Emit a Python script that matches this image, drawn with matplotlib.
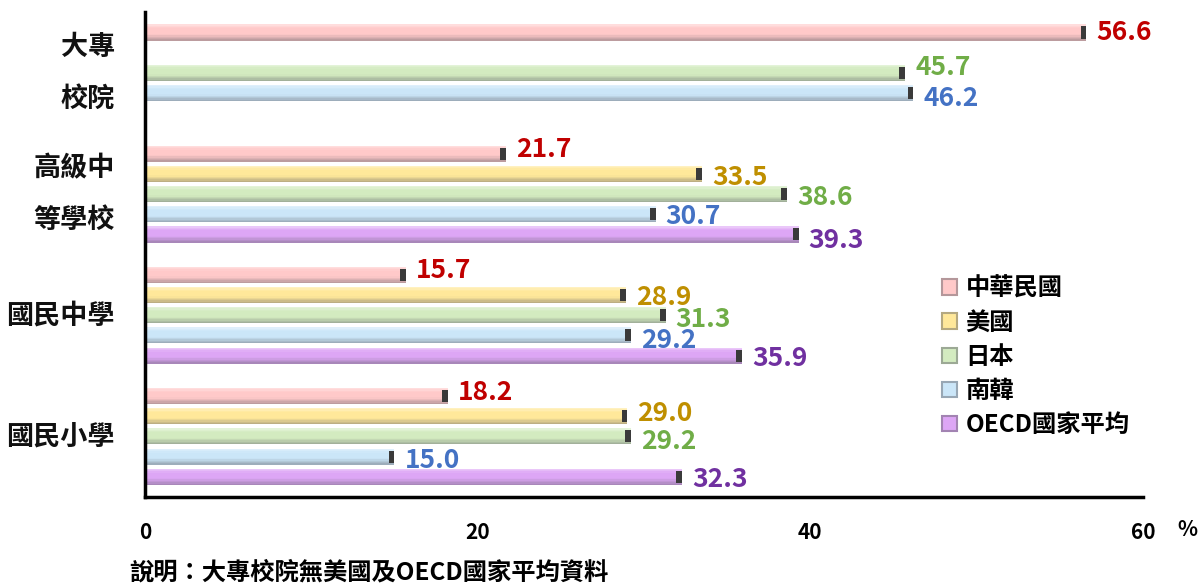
import matplotlib
matplotlib.use('Agg')
import matplotlib.pyplot as plt
import matplotlib.colors as mcolors
import numpy as np
from matplotlib.patches import Patch

plt.rcParams['font.family'] = ['Noto Sans CJK TC', 'DejaVu Sans']

# ---- data ----
categories = ['大專\n校院', '高級中\n等學校', '國民中學', '國民小學']
series_names = ['中華民國', '美國', '日本', '南韓', 'OECD國家平均']
taiwan = [56.6, 21.7, 15.7, 18.2]
usa = [None, 33.5, 28.9, 29.0]
japan = [45.7, 38.6, 31.3, 29.2]
korea = [46.2, 30.7, 29.2, 15.0]
oecd = [None, 39.3, 35.9, 32.3]
x_ticks = [0, 20, 40, 60]
footnote = '說明：大專校院無美國及OECD國家平均資料'

series_values = [taiwan, usa, japan, korea, oecd]
bar_colors = ['#FFC9C9', '#FFE89A', '#D3EBC0', '#CBE6F8', '#DDA6F5']
label_colors = ['#C00000', '#BF8F00', '#70AD47', '#4472C4', '#7030A0']
# vertical nudge of the value labels (pixels, + = down): [series][group]
label_dy = [[0, -4, -4, -4],
            [0, 4, 2, -3],
            [-5, 3, 4, 5],
            [5, 2, 5, 4],
            [0, 6, 3, 3]]

fig = plt.figure(figsize=(12, 5.84), dpi=100)
ax = fig.add_axes([0.1208, 0.149, 0.8317, 0.830])

bar_h = 0.8
n_strips = 12
slots_per_group = 6


def shade(color, t):
    base = np.array(mcolors.to_rgb(color))
    white = np.ones(3)
    dark = np.array([0.35, 0.35, 0.38])
    if t < 0.25:
        f = (0.25 - t) / 0.25
        return base * (1 - 0.45 * f) + white * 0.45 * f
    elif t < 0.6:
        return base
    else:
        f = (t - 0.6) / 0.4
        return base * (1 - 0.45 * f) + dark * 0.45 * f


for s, (vals, col, lcol) in enumerate(zip(series_values, bar_colors, label_colors)):
    for g, v in enumerate(vals):
        if v is None:
            continue
        yc = g * slots_per_group + s
        for k in range(n_strips):
            t = (k + 0.5) / n_strips
            ax.barh(yc - bar_h / 2 + t * bar_h, v, height=bar_h / n_strips,
                    color=shade(col, t), linewidth=0, zorder=2)
        # dark end cap
        ax.barh(yc, 0.35, left=v - 0.35, height=bar_h * 0.75,
                color='#3a3a3a', linewidth=0, zorder=3)
        ax.annotate(f'{v:.1f}', xy=(v, yc), xytext=(10, -label_dy[s][g]),
                    textcoords='offset pixels', ha='left', va='center',
                    fontsize=19, fontweight='bold', color=lcol, zorder=4)

ax.set_xlim(0, 60)
ax.set_ylim(23, -1)
ax.set_xticks(x_ticks)
ax.set_xticklabels([str(t) for t in x_ticks], fontsize=15, fontweight='bold')
ax.set_yticks([g * slots_per_group + 2 for g in range(len(categories))])
ax.set_yticklabels([])
for g, c in enumerate(categories):
    ax.annotate(c, xy=(0, g * slots_per_group + 2), xycoords=('axes fraction', 'data'),
                xytext=(-30, 0), textcoords='offset pixels', ha='right', va='center',
                fontsize=19.5, fontweight='bold', linespacing=2.05, color='#111111')
ax.tick_params(axis='x', length=0, pad=18)
ax.tick_params(axis='y', length=0)
for side in ['top', 'right']:
    ax.spines[side].set_visible(False)
for side in ['left', 'bottom']:
    ax.spines[side].set_linewidth(2.5)
    ax.spines[side].set_color('black')

ax.annotate('%', xy=(1.0, 0), xycoords='axes fraction', xytext=(44, -33),
            textcoords='offset pixels', ha='center', va='center',
            fontsize=15, fontweight='bold')

handles = [Patch(facecolor=c, edgecolor=mcolors.to_hex(shade(c, 1.0)), linewidth=1.5)
           for c in bar_colors]
ax.legend(handles, series_names, loc='upper left', bbox_to_anchor=(0.777, 0.5),
          frameon=False, handlelength=0.6, handleheight=0.6,
          handletextpad=0.35, labelspacing=0.42,
          prop={'weight': 'bold', 'size': 17.5})

fig.text(0.108, 0.019, footnote, ha='left', va='center', fontsize=17.5,
         fontweight='bold')

fig.savefig('out.png', dpi=100)
